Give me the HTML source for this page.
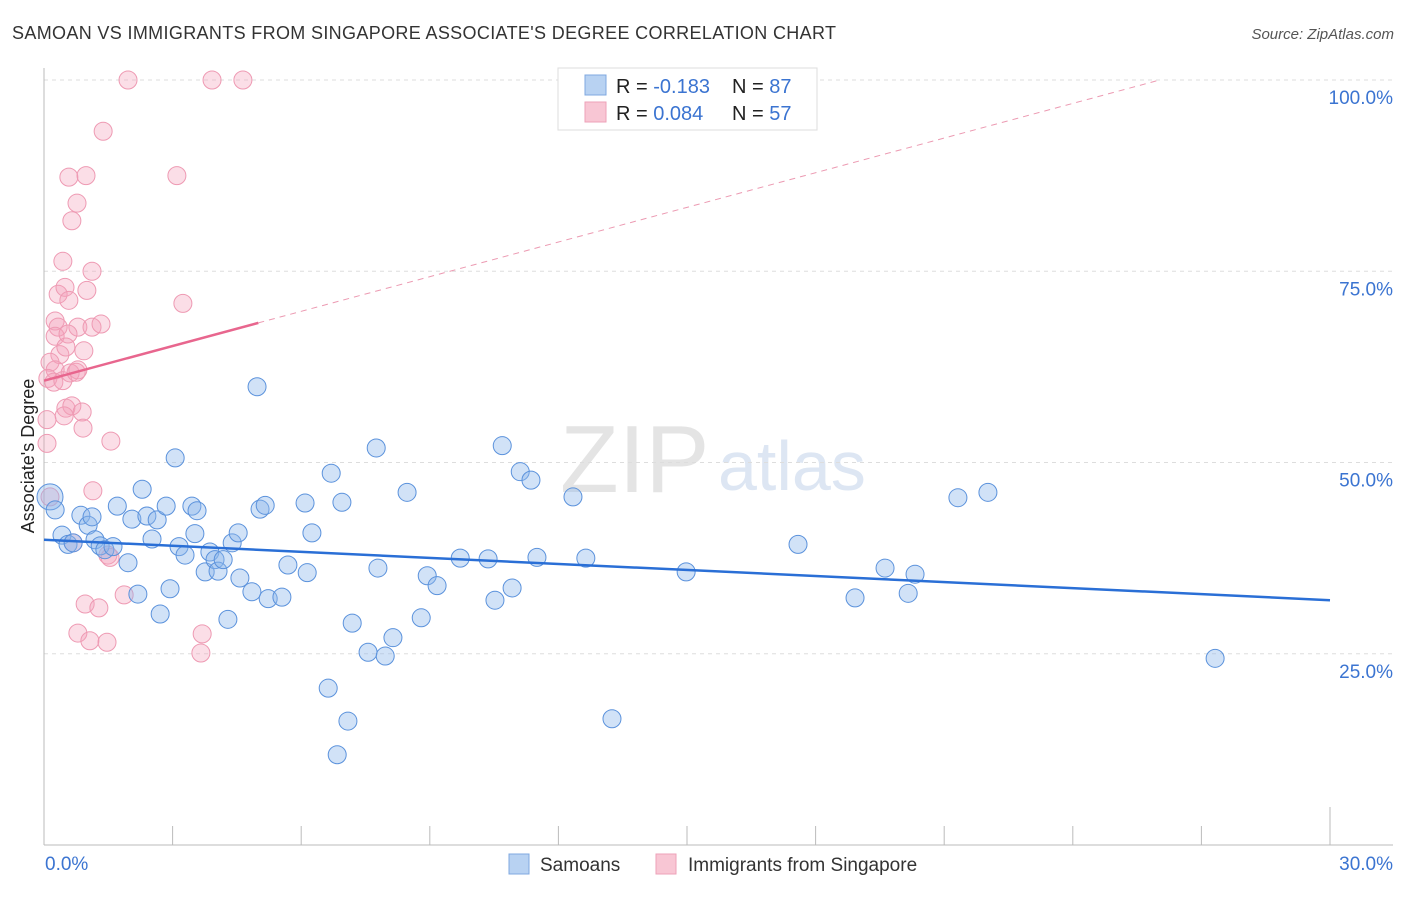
<!DOCTYPE html>
<html><head><meta charset="utf-8"><style>
body{margin:0;background:#fff;font-family:"Liberation Sans",sans-serif}
svg text{font-family:"Liberation Sans",sans-serif}
</style></head><body>
<svg id="chart" width="1406" height="892" xmlns="http://www.w3.org/2000/svg">
<text x="12" y="39" font-size="18" fill="#333" textLength="824" lengthAdjust="spacing">SAMOAN VS IMMIGRANTS FROM SINGAPORE ASSOCIATE'S DEGREE CORRELATION CHART</text>
<text x="1394" y="39" font-size="15" fill="#555" text-anchor="end" font-style="italic">Source: ZipAtlas.com</text>
<text x="560" y="492" font-size="96" fill="#e4e4e4" font-family="Liberation Serif">ZIP</text>
<text x="718" y="490" font-size="70" fill="#dde6f3">atlas</text>
<g id="grid"></g><g id="axes"></g><g id="marks"></g>
<text transform="translate(34,456) rotate(-90)" font-size="18" fill="#222" text-anchor="middle">Associate's Degree</text>
<g>
<rect x="558" y="68" width="259" height="62" fill="#fff" stroke="#ddd"/>
<rect x="585" y="75" width="21" height="20" fill="#b8d2f2" stroke="#7fa8e0"/>
<rect x="585" y="102" width="21" height="20" fill="#f8c6d4" stroke="#eea2b8"/>
<text x="616" y="93" font-size="20" fill="#222">R = <tspan fill="#3b74d1">-0.183</tspan></text>
<text x="732" y="93" font-size="20" fill="#222">N = <tspan fill="#3b74d1">87</tspan></text>
<text x="616" y="120" font-size="20" fill="#222">R = <tspan fill="#3b74d1"> 0.084</tspan></text>
<text x="732" y="120" font-size="20" fill="#222">N = <tspan fill="#3b74d1">57</tspan></text>
</g>
<g>
<rect x="509" y="854" width="20" height="20" fill="#b8d2f2" stroke="#7fa8e0"/>
<text x="540" y="871" font-size="19" fill="#333">Samoans</text>
<rect x="656" y="854" width="20" height="20" fill="#f8c6d4" stroke="#eea2b8"/>
<text x="688" y="871" font-size="19" fill="#333">Immigrants from Singapore</text>
</g>
</svg>
<script>
const blueX=[0.14,0.26,0.42,0.56,0.68,0.86,1.03,1.12,1.19,1.31,1.42,1.61,1.71,1.96,2.05,2.19,2.29,2.40,2.52,2.64,2.71,2.85,2.94,3.06,3.15,3.29,3.45,3.57,3.52,3.76,3.87,3.99,4.06,4.18,4.29,4.39,4.53,4.57,4.85,4.97,5.04,5.16,5.23,5.55,5.69,6.09,6.14,6.25,6.63,6.70,6.84,6.95,7.09,7.19,7.56,7.75,7.79,7.96,8.14,8.47,8.80,8.94,9.17,9.71,10.36,10.52,10.69,10.92,11.11,11.36,11.50,12.34,12.64,13.25,14.98,17.59,18.92,19.62,20.16,20.32,21.32,22.02,27.32];
const blueY=[45.5,43.8,40.5,39.3,39.5,43.1,41.8,42.9,39.9,39.1,38.6,39.0,44.3,36.9,42.6,32.8,46.5,43.0,40.0,42.5,30.2,44.3,33.5,50.6,39.0,37.9,44.3,43.7,40.7,35.7,38.3,37.3,35.8,37.3,29.5,39.5,40.8,34.9,33.1,59.9,43.9,44.4,32.2,32.4,36.6,44.7,35.6,40.8,20.5,48.6,11.8,44.8,16.2,29.0,25.2,51.9,36.2,24.7,27.1,46.1,29.7,35.2,33.9,37.5,37.4,32.0,52.2,33.6,48.8,47.7,37.6,45.5,37.5,16.5,35.7,39.3,32.3,36.2,32.9,35.4,45.4,46.1,24.4];
const pinkX=[1.96,3.92,4.64,1.38,0.58,0.98,3.10,0.65,0.77,0.44,1.12,0.33,0.49,1.00,0.58,3.24,0.26,0.33,0.79,1.12,1.33,0.26,0.56,0.37,0.93,0.51,0.14,0.26,0.09,0.23,0.44,0.61,0.75,0.79,0.07,0.51,0.65,0.89,0.47,0.91,1.56,0.07,1.14,0.14,0.68,1.49,1.54,1.87,0.96,1.28,3.69,0.79,1.07,1.47,3.66];
const pinkY=[100,100,100,93.3,87.3,87.5,87.5,81.6,83.9,76.3,75.0,72.0,72.9,72.5,71.2,70.8,68.5,67.7,67.7,67.7,68.1,66.5,66.8,64.1,64.6,65.1,63.1,62.1,61.0,60.5,60.7,61.7,61.8,62.1,55.6,57.1,57.4,56.6,56.1,54.5,52.8,52.5,46.3,45.5,39.5,37.9,37.6,32.7,31.5,31.0,27.6,27.7,26.7,26.5,25.1];
const blueTrend=[39.9,32.0];
const pinkTrend=[60.7,1.51];
const yTicks=[25,50,75,100];
const xTicks=[0,3,6,9,12,15,18,21,24,27,30];
const NS="http://www.w3.org/2000/svg";
const sx=v=>44+v/30*1286, sy=v=>845-v/100*765;
function mk(t,a,p){const e=document.createElementNS(NS,t);for(const k in a)e.setAttribute(k,a[k]);document.getElementById(p).appendChild(e);return e;}
yTicks.forEach(t=>{
 const l=mk('line',{x1:44,x2:1393,y1:sy(t),y2:sy(t),stroke:'#ddd','stroke-dasharray':'4,4'},'grid');
 
 
 const tx=mk('text',{x:1393,y:sy(t)+24,'font-size':19,fill:'#3b74d1','text-anchor':'end'},'grid');
 tx.textContent=t.toFixed(1)+'%';
 
 
});
let a=mk('line',{x1:44,x2:44,y1:68,y2:845,stroke:'#bbb'},'axes');


a=mk('line',{x1:44,x2:1393,y1:845,y2:845,stroke:'#bbb'},'axes');


xTicks.forEach((t,i)=>{
 const big=(i==0||i==xTicks.length-1);
 const l=mk('line',{x1:sx(t),x2:sx(t),y1:big?807:826,y2:845,stroke:'#bbb'},'axes');
 
 
});
[[0,'start'],[30,'end']].forEach(([t,an])=>{
 const tx=mk('text',{x:t==0?45:1393,y:870,'font-size':19,fill:'#3b74d1','text-anchor':an},'axes');
 tx.textContent=t.toFixed(1)+'%';
 
 
});
pinkX.forEach((x,i)=>{
 const c=mk('circle',{cx:sx(x),cy:sy(pinkY[i]),r:9,fill:'rgba(244,160,186,0.35)',stroke:'#ee9ab3','stroke-width':1},'marks');
 
 
});
blueX.forEach((x,i)=>{
 const c=mk('circle',{cx:sx(x),cy:sy(blueY[i]),r:i==0?13:9,fill:'rgba(140,182,236,0.4)',stroke:'#5b92dc','stroke-width':1},'marks');
 
 
});
let t=mk('line',{x1:sx(0),y1:sy(blueTrend[0]),x2:sx(30),y2:sy(blueTrend[1]),stroke:'#2a6fd6','stroke-width':2.5},'marks');


const pe=(100-pinkTrend[0])/pinkTrend[1];
t=mk('line',{x1:sx(0),y1:sy(pinkTrend[0]),x2:sx(5),y2:sy(pinkTrend[0]+5*pinkTrend[1]),stroke:'#e8668e','stroke-width':2.5},'marks');


t=mk('line',{x1:sx(5),y1:sy(pinkTrend[0]+5*pinkTrend[1]),x2:sx(pe),y2:sy(100),stroke:'#ec9ab2','stroke-width':1,'stroke-dasharray':'6,5'},'marks');


</script>
</body></html>
